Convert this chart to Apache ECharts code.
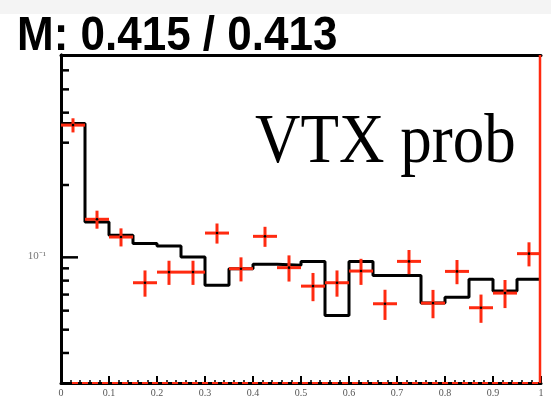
<!DOCTYPE html>
<html>
<head>
<meta charset="utf-8">
<script src="https://cdn.jsdelivr.net/npm/echarts@6/dist/echarts.min.js"></script>
<style>
html,body{margin:0;padding:0;background:#fff;}
#chart{width:551px;height:419px;}
</style>
</head>
<body>
<div id="chart"></div>
<script>
// ---- data ----
const titleText = 'M: 0.415 / 0.413';
const annotationText = 'VTX prob';
const binLowEdges = [0,0.05,0.1,0.15,0.2,0.25,0.3,0.35,0.4,0.45,0.5,0.55,0.6,0.65,0.7,0.75,0.8,0.85,0.9,0.95];
const binWidth = 0.05;
const mcValues = [0.3606,0.1403,0.1235,0.1141,0.1115,0.1003,0.0765,0.0897,0.0935,0.0926,
                  0.0962,0.0573,0.0962,0.0841,0.0841,0.0645,0.0683,0.0810,0.0724,0.0810];
const dataValues = [0.355,0.144,0.1215,0.0784,0.0868,0.0868,0.1262,0.0897,0.1223,0.0906,
                    0.0759,0.0784,0.0877,0.0641,0.0962,0.0645,0.0874,0.0617,0.0710,0.1036];
const dataErrors = [0.024,0.0124,0.0105,0.0098,0.010,0.010,0.0121,0.0103,0.0117,0.0113,
                    0.0102,0.0098,0.0109,0.0092,0.0111,0.0087,0.0101,0.0083,0.0095,0.0119];
const xTickLabels = ['0','0.1','0.2','0.3','0.4','0.5','0.6','0.7','0.8','0.9','1'];
const yMajorTicks = [0.1];
const yMajorTickLabels = ['10\u207B\u00B9'];
const yMinorTicks = [0.04,0.05,0.06,0.07,0.08,0.09,0.2,0.3,0.4,0.5,0.6];
const yMin = 0.03, yMax = 0.695;

// ---- build ----
const histData = binLowEdges.map((x,i)=>[x, mcValues[i]]);
histData.push([binLowEdges[binLowEdges.length-1]+binWidth, mcValues[mcValues.length-1]]);
const crossData = binLowEdges.map((x,i)=>[x+binWidth/2, dataValues[i], dataErrors[i]]);
const yTickData = yMinorTicks.map(v=>[0,v,0,-1]).concat(yMajorTicks.map((v,i)=>[0,v,1,i]));

const RED = '#ff2a10';
const chart = echarts.init(document.getElementById('chart'));
chart.setOption({
  animation:false,
  backgroundColor:'#ffffff',
  grid:{left:61,right:10,top:55,bottom:36,containLabel:false},
  graphic:[
    {type:'rect',shape:{x:0,y:0,width:551,height:14},style:{fill:'#f4f4f4'},z:-1},
    {type:'text',x:17,y:37,scaleY:1.08,style:{text:titleText,font:'bold 44px "Liberation Sans", Arial, sans-serif',fill:'#000',textAlign:'left',textVerticalAlign:'middle'},z:10},
    {type:'text',x:255,y:143,scaleY:1.12,style:{text:annotationText,font:'63px "Liberation Serif", "Times New Roman", serif',fill:'#000',textAlign:'left',textVerticalAlign:'middle'},z:10}
  ],
  xAxis:[
    {type:'value',min:0,max:1,interval:0.1,position:'bottom',
     axisLine:{show:true,lineStyle:{color:'#000',width:3}},
     axisTick:{show:true,inside:true,length:7,lineStyle:{color:'#000',width:2}},
     minorTick:{show:true,splitNumber:5,length:3,lineStyle:{color:'#000',width:1.5}},
     splitLine:{show:false},
     axisLabel:{show:true,margin:5,fontSize:10,color:'#555',fontFamily:'"Liberation Serif", serif',
       formatter:v=>xTickLabels[Math.round(v*10)]}},
    {type:'value',min:0,max:1,position:'top',
     axisLine:{show:true,lineStyle:{color:'#000',width:3}},
     axisTick:{show:false},axisLabel:{show:false},splitLine:{show:false}}
  ],
  yAxis:[
    {type:'log',logBase:10,min:yMin,max:yMax,position:'left',
     axisLine:{show:true,lineStyle:{color:'#000',width:3}},
     axisTick:{show:false},axisLabel:{show:false},splitLine:{show:false},minorTick:{show:false}},
    {type:'log',logBase:10,min:yMin,max:yMax,position:'right',
     axisLine:{show:true,lineStyle:{color:'#000',width:3}},
     axisTick:{show:false},axisLabel:{show:false},splitLine:{show:false}}
  ],
  series:[
    {type:'line',name:'MC',data:histData,step:'end',symbol:'none',
     lineStyle:{color:'#000',width:3},z:3,clip:false},
    {type:'custom',name:'data',data:crossData,z:4,clip:false,
     renderItem:function(params,api){
       const x=api.value(0), v=api.value(1), e=api.value(2);
       const l=api.coord([x-binWidth/2,v]), r=api.coord([x+binWidth/2,v]);
       const lo=api.coord([x,v-e]), hi=api.coord([x,v+e]);
       const c=api.coord([x,v]);
       return {type:'group',children:[
         {type:'line',shape:{x1:l[0],y1:l[1],x2:r[0],y2:r[1]},style:{stroke:RED,lineWidth:3}},
         {type:'line',shape:{x1:lo[0],y1:lo[1],x2:hi[0],y2:hi[1]},style:{stroke:RED,lineWidth:3}},
         {type:'circle',shape:{cx:c[0],cy:c[1],r:1.3},style:{fill:'#000'}}
       ]};
     }},
    {type:'custom',name:'yticks',data:yTickData,z:5,clip:false,silent:true,
     dimensions:['x','v','major','label'],
     renderItem:function(params,api){
       const major=api.value(2)===1;
       const p=api.coord([0,api.value(1)]);
       const len=major?17:8;
       const children=[{type:'line',shape:{x1:p[0],y1:p[1],x2:p[0]+len,y2:p[1]},style:{stroke:'#000',lineWidth:2.5}}];
       if(major){
         children.push({type:'text',x:p[0]-24,y:p[1]-1,style:{text:yMajorTickLabels[api.value(3)],font:'11px "Liberation Serif", serif',fill:'#777',textAlign:'center',textVerticalAlign:'middle'}});
       }
       return {type:'group',children:children};
     }},
    {type:'custom',name:'frame',data:[[1,yMin]],z:6,clip:false,silent:true,
     renderItem:function(params,api){
       const bl=api.coord([0,yMin]), br=api.coord([1,yMin]), tr=api.coord([1,yMax]);
       return {type:'group',children:[
         {type:'line',shape:{x1:bl[0]+11,y1:bl[1],x2:br[0],y2:br[1]},style:{stroke:RED,lineWidth:2,lineDash:[6,4]}},
         {type:'line',shape:{x1:tr[0]-1,y1:tr[1],x2:br[0]-1,y2:br[1]},style:{stroke:RED,lineWidth:2.5}}
       ]};
     }}
  ]
});
</script>
</body>
</html>
